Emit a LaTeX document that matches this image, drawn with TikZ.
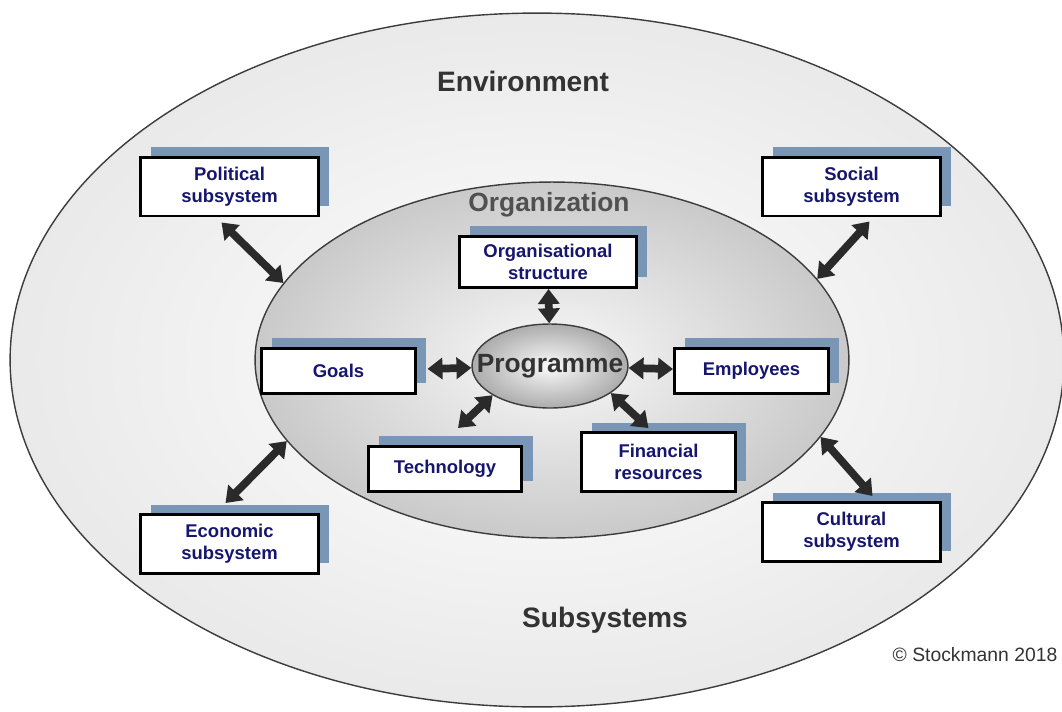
\documentclass[tikz,border=0pt]{standalone}
\usepackage{fontspec}
\setmainfont{Liberation Sans}
\usetikzlibrary{shapes.geometric,shadows,arrows.meta}
\definecolor{shadowblue}{RGB}{121,150,182}
\definecolor{boxtext}{RGB}{22,22,110}
\definecolor{arrowgray}{RGB}{42,42,42}
\definecolor{titlegray}{RGB}{51,51,51}
\definecolor{rimgray}{RGB}{60,60,60}

\begin{document}
\begin{tikzpicture}[x=0.02cm,y=-0.02cm,every node/.style={font=\bfseries\fontsize{10.5}{12.5}\selectfont},sub/.style={draw=black, line width=1.7pt, fill=white, text=boxtext, align=center, inner sep=0pt, general shadow={fill=shadowblue, shadow xshift=6pt, shadow yshift=5.7pt}},bigbox/.style={sub, minimum width=3.56cm, minimum height=1.18cm},smallbox/.style={sub, minimum width=3.08cm, minimum height=0.9cm},biarrow/.style={{Triangle[width=12pt,length=8.5pt]}-{Triangle[width=12pt,length=8.5pt]}, line width=4.4pt, draw=arrowgray},title/.style={text=titlegray, font=\bfseries\fontsize{16}{19}\selectfont},sphere/.style={ellipse, draw=rimgray, line width=0.8pt, inner sep=0pt}]
\useasboundingbox (0,0) rectangle (1062,711);
\node[sphere, inner color=white, outer color=gray!17, minimum width=21.08cm, minimum height=13.88cm] (env) at (537,360) {};
\node[sphere, inner color=gray!5, outer color=gray!42, minimum width=11.88cm, minimum height=7.12cm] (org) at (552,360) {};
\node[sphere, inner color=gray!4, outer color=gray!65, minimum width=3.12cm, minimum height=1.68cm, label={[title, font=\bfseries\fontsize{15}{18}\selectfont]center:Programme}] (prog) at (550,366) {};
\node[title] (envlabel) at (523,81) {Environment};
\node[title, text=rimgray!90!white, font=\bfseries\fontsize{15}{18}\selectfont] (orglabel) at (549,205) {Organization};
\node[title] (sublabel) at (605,620) {Subsystems};
\node[text=titlegray, font=\fontsize{11}{13}\selectfont] (copyright) at (975,655) {© Stockmann 2018};
\node[bigbox] (political) at (229.5,186.5) {Political\\subsystem};
\node[bigbox] (social) at (851.5,186.5) {Social\\subsystem};
\node[bigbox] (economic) at (229.5,544) {Economic\\subsystem};
\node[bigbox] (cultural) at (851.5,532) {Cultural\\subsystem};
\node[sub, minimum width=3.54cm, minimum height=1.02cm] (orgstruct) at (548,262) {Organisational\\structure};
\node[smallbox] (goals) at (338.5,371) {Goals};
\node[smallbox] (employees) at (751.5,371) {Employees};
\node[smallbox] (technology) at (445,469) {Technology};
\node[smallbox, minimum height=1.18cm] (financial) at (658.5,462) {Financial\\resources};
\draw[biarrow] ([shift={(-8,5)}]political.south) -- (org.164);
\draw[biarrow] ([shift={(18,4)}]social.south) -- (org.17);
\draw[biarrow] ([shift={(-4,-10)}]economic.north) -- (org.197);
\draw[biarrow] ([shift={(21,-5)}]cultural.north) -- (org.-16);
\draw[biarrow] (orgstruct) -- (prog);
\draw[biarrow, shorten <=6pt] (goals) -- (prog);
\draw[biarrow] (prog) -- (employees);
\draw[biarrow] (prog.-153) -- ([shift={(13,-17)}]technology.north);
\draw[biarrow] (prog.-24) -- ([shift={(-10,-3)}]financial.north);
\end{tikzpicture}
\end{document}
